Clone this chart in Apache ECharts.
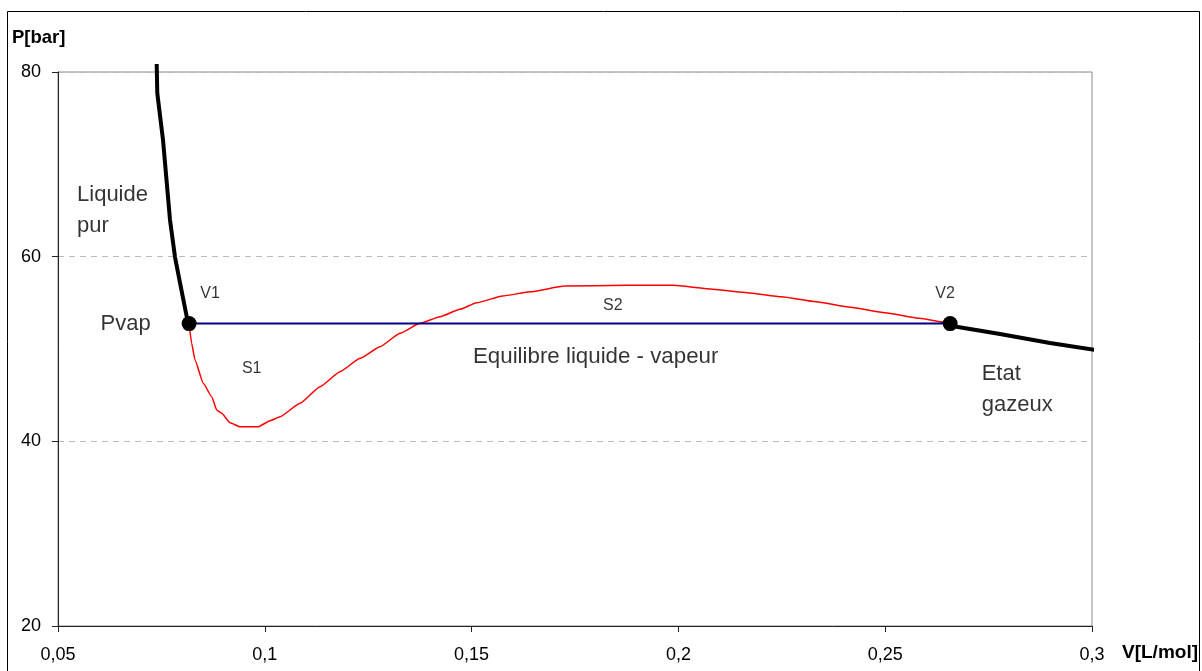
<!DOCTYPE html>
<html>
<head>
<meta charset="utf-8">
<script src="https://cdn.jsdelivr.net/npm/echarts@6/dist/echarts.min.js"></script>
<style>
html,body{margin:0;padding:0;background:#fff;}
#chart{width:1202px;height:671px;}
</style>
</head>
<body>
<div id="chart"></div>
<script>
// ---- Data ----
const pVap = 52.75;
const vEndpoints = [0.0817, 0.2657];

const vLiquid = [0.07386, 0.07401, 0.07539, 0.07708, 0.07829, 0.07950, 0.08112, 0.0817];
const pLiquid = [80.87, 77.69, 72.64, 63.98, 59.96, 57.15, 53.5, 52.75];

const vGas = [0.2657, 0.26722, 0.27776, 0.28985, 0.30235];
const pGas = [52.75, 52.42, 51.62, 50.65, 49.78];

const vCurve = [0.0817, 0.08232, 0.08312, 0.08513, 0.08716, 0.08837, 0.08957, 0.09159, 0.09400, 0.09843,
  0.10126, 0.10368, 0.10851, 0.11335, 0.11818, 0.12302, 0.12785, 0.13269, 0.13752, 0.14236,
  0.14720, 0.15123, 0.15750, 0.16417, 0.17249, 0.18748, 0.19872, 0.20830, 0.21661, 0.22495,
  0.23327, 0.24159, 0.24993, 0.25825, 0.26492, 0.2657];
const pCurve = [52.75, 50.60, 48.81, 46.28, 44.84, 43.39, 43.03, 42.02, 41.58, 41.58,
  42.23, 42.67, 44.12, 45.92, 47.54, 48.99, 50.25, 51.70, 52.78, 53.50,
  54.30, 55.01, 55.74, 56.20, 56.82, 56.90, 56.90, 56.47, 56.10, 55.66,
  55.12, 54.52, 53.93, 53.32, 52.85, 52.75];

const xTickLabels = ['0,05', '0,1', '0,15', '0,2', '0,25', '0,3'];
const yTickLabels = ['20', '40', '60', '80'];

const annText = ['Liquide\npur', 'Pvap', 'V1', 'S1', 'S2', 'Equilibre liquide - vapeur', 'V2', 'Etat\ngazeux'];
const annV = [0.0546, 0.07241, 0.08675, 0.09683, 0.18414, 0.1800, 0.26446, 0.27333];
const annP = [64.97, 52.71, 56.03, 47.91, 54.66, 49.13, 55.96, 45.65];

// ---- Styling / build ----
const FONT = "'Liberation Sans', Arial, sans-serif";
const annStyle = [
  {size: 22, align: 'left'}, {size: 22, align: 'right'}, {size: 16, align: 'center'},
  {size: 16, align: 'center'}, {size: 16, align: 'center'}, {size: 22.3, align: 'center'},
  {size: 16, align: 'center'}, {size: 22, align: 'left'}
];
const zip = (a, b) => a.map((v, i) => [v, b[i]]);

const annData = annText.map((t, i) => ({
  value: [annV[i], annP[i]],
  label: {
    show: true, formatter: t, position: 'inside',
    align: annStyle[i].align, verticalAlign: 'middle',
    fontSize: annStyle[i].size, lineHeight: annStyle[i].size > 20 ? 31 : 20,
    color: '#000', fontFamily: FONT
  }
}));

const xMin = 0.05, xMax = 0.3, xStep = 0.05;
const chart = echarts.init(document.getElementById('chart'), null, {renderer: 'canvas'});
chart.setOption({
  animation: false,
  backgroundColor: '#fff',
  grid: {left: 58, top: 72, right: 110, bottom: 45, show: true, borderColor: '#888', borderWidth: 1, backgroundColor: 'transparent'},
  xAxis: {
    type: 'value', min: xMin, max: xMax, interval: xStep,
    axisLine: {show: true, onZero: false, lineStyle: {color: '#222', width: 1}},
    axisTick: {show: true, inside: false, length: 6, lineStyle: {color: '#222'}},
    splitLine: {show: false},
    axisLabel: {
      margin: 20, fontSize: 18, color: '#000', fontFamily: FONT,
      formatter: v => xTickLabels[Math.round((v - xMin) / xStep)]
    }
  },
  yAxis: {
    type: 'value', min: 20, max: 80, interval: 20,
    axisLine: {show: true, onZero: false, lineStyle: {color: '#222', width: 1}},
    axisTick: {show: true, inside: false, length: 6, lineStyle: {color: '#222'}},
    splitLine: {show: true, lineStyle: {color: '#bbb', type: [6, 5], width: 1}},
    axisLabel: {
      margin: 17, fontSize: 18, color: '#000', fontFamily: FONT,
      formatter: v => yTickLabels[Math.round((v - 20) / 20)]
    }
  },
  graphic: [
    {type: 'rect', shape: {x: 7.5, y: 11.5, width: 1192, height: 700}, style: {fill: 'none', stroke: '#000', lineWidth: 1}, z: 100, silent: true},
    {type: 'text', left: 12, top: 28, style: {text: 'P[bar]', fill: '#000', font: "bold 18.5px 'Liberation Sans', Arial"}, silent: true},
    {type: 'text', left: 1122, top: 643, style: {text: 'V[L/mol]', fill: '#000', font: "bold 19px 'Liberation Sans', Arial"}, silent: true}
  ],
  series: [
    {
      name: 'curve', type: 'line', data: zip(vCurve, pCurve), showSymbol: false, clip: false,
      smooth: 0.15, smoothMonotone: 'x',
      lineStyle: {color: '#ff0000', width: 1.5}, z: 2, silent: true
    },
    {
      name: 'plateau', type: 'line', data: vEndpoints.map(v => [v, pVap]), showSymbol: false, clip: false,
      lineStyle: {color: '#000080', width: 2}, z: 3, silent: true
    },
    {
      name: 'liquid', type: 'line', data: zip(vLiquid, pLiquid), showSymbol: false, clip: false,
      lineStyle: {color: '#000', width: 4}, z: 4, silent: true
    },
    {
      name: 'gas', type: 'line', data: zip(vGas, pGas), showSymbol: false, clip: false,
      lineStyle: {color: '#000', width: 4}, z: 4, silent: true
    },
    {
      name: 'points', type: 'scatter', data: vEndpoints.map(v => [v, pVap]), symbol: 'circle', symbolSize: 15,
      itemStyle: {color: '#000', opacity: 1}, z: 5, silent: true, clip: false
    },
    {
      name: 'annotations', type: 'scatter', data: annData, symbol: 'circle', symbolSize: 1,
      itemStyle: {color: 'rgba(0,0,0,0)'}, z: 6, silent: true, clip: false
    }
  ]
});
</script>
</body>
</html>
